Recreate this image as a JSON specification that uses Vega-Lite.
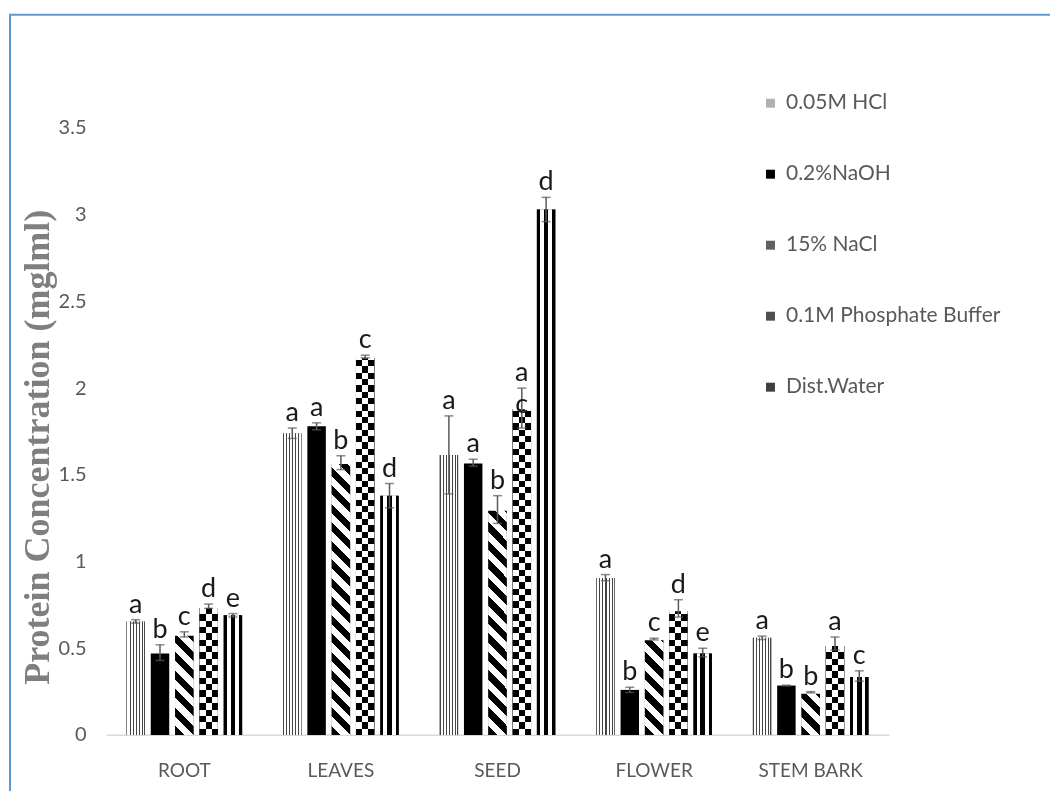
{
  "$schema": "https://vega.github.io/schema/vega-lite/v6.json",
  "width": 1042,
  "height": 778,
  "autosize": {"type": "none"},
  "padding": {"left": 10, "top": 14.7, "right": -2, "bottom": -2},
  "background": "white",
  "config": {"view": {"stroke": "#5B9BD5", "strokeWidth": 2}, "axis": {"grid": false}},
  "data": {"values": [
    {"part": "ROOT", "method": "0.05M HCl", "value": 0.655, "lo": 0.645, "hi": 0.665, "letter": "a"},
    {"part": "ROOT", "method": "0.2%NaOH", "value": 0.47, "lo": 0.43, "hi": 0.52, "letter": "b"},
    {"part": "ROOT", "method": "15% NaCl", "value": 0.58, "lo": 0.565, "hi": 0.595, "letter": "c"},
    {"part": "ROOT", "method": "0.1M Phosphate Buffer", "value": 0.74, "lo": 0.73, "hi": 0.755, "letter": "d"},
    {"part": "ROOT", "method": "Dist.Water", "value": 0.69, "lo": 0.68, "hi": 0.7, "letter": "e"},
    {"part": "LEAVES", "method": "0.05M HCl", "value": 1.74, "lo": 1.71, "hi": 1.77, "letter": "a"},
    {"part": "LEAVES", "method": "0.2%NaOH", "value": 1.78, "lo": 1.76, "hi": 1.8, "letter": "a"},
    {"part": "LEAVES", "method": "15% NaCl", "value": 1.57, "lo": 1.53, "hi": 1.61, "letter": "b"},
    {"part": "LEAVES", "method": "0.1M Phosphate Buffer", "value": 2.18, "lo": 2.175, "hi": 2.19, "letter": "c"},
    {"part": "LEAVES", "method": "Dist.Water", "value": 1.38, "lo": 1.31, "hi": 1.45, "letter": "d"},
    {"part": "SEED", "method": "0.05M HCl", "value": 1.615, "lo": 1.39, "hi": 1.84, "letter": "a"},
    {"part": "SEED", "method": "0.2%NaOH", "value": 1.565, "lo": 1.55, "hi": 1.59, "letter": "a"},
    {"part": "SEED", "method": "15% NaCl", "value": 1.3, "lo": 1.22, "hi": 1.38, "letter": "b"},
    {"part": "SEED", "method": "0.1M Phosphate Buffer", "value": 1.885, "lo": 1.77, "hi": 2.0, "letter": "a", "letter2": "c"},
    {"part": "SEED", "method": "Dist.Water", "value": 3.03, "lo": 2.96, "hi": 3.1, "letter": "d"},
    {"part": "FLOWER", "method": "0.05M HCl", "value": 0.905, "lo": 0.89, "hi": 0.925, "letter": "a"},
    {"part": "FLOWER", "method": "0.2%NaOH", "value": 0.26, "lo": 0.245, "hi": 0.275, "letter": "b"},
    {"part": "FLOWER", "method": "15% NaCl", "value": 0.553, "lo": 0.548, "hi": 0.558, "letter": "c"},
    {"part": "FLOWER", "method": "0.1M Phosphate Buffer", "value": 0.72, "lo": 0.68, "hi": 0.78, "letter": "d"},
    {"part": "FLOWER", "method": "Dist.Water", "value": 0.47, "lo": 0.45, "hi": 0.5, "letter": "e"},
    {"part": "STEM BARK", "method": "0.05M HCl", "value": 0.56, "lo": 0.55, "hi": 0.57, "letter": "a"},
    {"part": "STEM BARK", "method": "0.2%NaOH", "value": 0.285, "lo": 0.283, "hi": 0.287, "letter": "b"},
    {"part": "STEM BARK", "method": "15% NaCl", "value": 0.245, "lo": 0.243, "hi": 0.25, "letter": "b"},
    {"part": "STEM BARK", "method": "0.1M Phosphate Buffer", "value": 0.52, "lo": 0.49, "hi": 0.565, "letter": "a"},
    {"part": "STEM BARK", "method": "Dist.Water", "value": 0.335, "lo": 0.31, "hi": 0.37, "letter": "c"}
  ]},
  "encoding": {
    "x": {
      "field": "part", "type": "nominal", "title": null,
      "scale": {"type": "band", "domain": ["ROOT", "LEAVES", "SEED", "FLOWER", "STEM BARK"], "range": [96, 879], "paddingInner": 0.224, "paddingOuter": 0.112},
      "axis": {"offset": -58, "domainColor": "#d9d9d9", "domainWidth": 1.5, "ticks": false, "labelPadding": 27, "labelFont": "Lato", "labelFontSize": 19, "labelColor": "#595959", "labelAngle": 0}
    },
    "xOffset": {
      "field": "method", "type": "nominal",
      "scale": {"domain": ["0.05M HCl", "0.2%NaOH", "15% NaCl", "0.1M Phosphate Buffer", "Dist.Water"], "paddingInner": 0.24, "paddingOuter": 0.12}
    }
  },
  "layer": [
    {
      "mark": {"type": "bar"},
      "encoding": {
        "y": {
          "field": "value", "type": "quantitative", "title": "Protein Concentration (mglml)",
          "scale": {"domain": [0, 3.5], "range": [720.3, 113.3], "nice": false},
          "axis": {"values": [0, 0.5, 1, 1.5, 2, 2.5, 3, 3.5], "format": "~g", "domain": false, "ticks": false, "grid": false, "offset": -76, "labelPadding": 0, "labelFont": "Lato", "labelFontSize": 20, "labelColor": "#595959", "titleFont": "Liberation Serif", "titleFontWeight": "bold", "titleFontSize": 36, "titleColor": "#7f7f7f", "titleX": -49, "titleY": 432, "titleAngle": -90, "titleAlign": "center", "titleBaseline": "middle"}
        },
        "y2": {"datum": 0},
        "color": {
          "field": "method", "type": "nominal",
          "scale": {"domain": ["0.05M HCl", "0.2%NaOH", "15% NaCl", "0.1M Phosphate Buffer", "Dist.Water"], "range": ["#b0b0b0", "#000000", "#606060", "#505050", "#404040"]},
          "legend": {"orient": "none", "legendX": 750, "legendY": 78, "title": null, "direction": "vertical", "symbolType": "square", "symbolSize": 80, "symbolStrokeWidth": 0, "labelFont": "Lato", "labelFontSize": 21, "labelColor": "#595959", "labelOffset": 5, "labelLimit": 0, "rowPadding": 49, "padding": 0, "zindex": 1}
        }
      }
    },
    {
      "transform": [{"filter": "datum.method === '0.05M HCl'"}],
      "mark": {"type": "bar", "fill": {"gradient": "linear", "x1": 0, "y1": 0, "x2": 1, "y2": 0, "stops": [
        {"offset": 0, "color": "#444"}, {"offset": 0.0556, "color": "#444"}, {"offset": 0.0556, "color": "#fff"}, {"offset": 0.1667, "color": "#fff"},
        {"offset": 0.1667, "color": "#444"}, {"offset": 0.2222, "color": "#444"}, {"offset": 0.2222, "color": "#fff"}, {"offset": 0.3333, "color": "#fff"},
        {"offset": 0.3333, "color": "#444"}, {"offset": 0.3889, "color": "#444"}, {"offset": 0.3889, "color": "#fff"}, {"offset": 0.5, "color": "#fff"},
        {"offset": 0.5, "color": "#444"}, {"offset": 0.5556, "color": "#444"}, {"offset": 0.5556, "color": "#fff"}, {"offset": 0.6667, "color": "#fff"},
        {"offset": 0.6667, "color": "#444"}, {"offset": 0.7222, "color": "#444"}, {"offset": 0.7222, "color": "#fff"}, {"offset": 0.8333, "color": "#fff"},
        {"offset": 0.8333, "color": "#444"}, {"offset": 0.8889, "color": "#444"}, {"offset": 0.8889, "color": "#fff"}, {"offset": 0.9444, "color": "#fff"},
        {"offset": 0.9444, "color": "#444"}, {"offset": 1, "color": "#444"}
      ]}},
      "encoding": {"y": {"field": "value", "type": "quantitative", "title": "Protein Concentration (mglml)"}, "y2": {"datum": 0}}
    },
    {
      "transform": [{"filter": "datum.method === 'Dist.Water'"}],
      "mark": {"type": "bar", "fill": {"gradient": "linear", "x1": 0, "y1": 0, "x2": 1, "y2": 0, "stops": [
        {"offset": 0, "color": "#000"}, {"offset": 0.17, "color": "#000"}, {"offset": 0.17, "color": "#fff"}, {"offset": 0.38, "color": "#fff"},
        {"offset": 0.38, "color": "#000"}, {"offset": 0.62, "color": "#000"}, {"offset": 0.62, "color": "#fff"}, {"offset": 0.83, "color": "#fff"},
        {"offset": 0.83, "color": "#000"}, {"offset": 1, "color": "#000"}
      ]}},
      "encoding": {"y": {"field": "value", "type": "quantitative", "title": "Protein Concentration (mglml)"}, "y2": {"datum": 0}}
    },
    {
      "transform": [{"filter": "datum.method === '15% NaCl'"}],
      "mark": {"type": "bar", "fill": {"gradient": "linear", "x1": 0, "y1": 1, "x2": 0.0708, "y2": -0.062, "stops": [
        {"offset": 0, "color": "#000"}, {"offset": 0.03125, "color": "#000"}, {"offset": 0.03125, "color": "#fff"}, {"offset": 0.0625, "color": "#fff"},
        {"offset": 0.0625, "color": "#000"}, {"offset": 0.09375, "color": "#000"}, {"offset": 0.09375, "color": "#fff"}, {"offset": 0.125, "color": "#fff"},
        {"offset": 0.125, "color": "#000"}, {"offset": 0.15625, "color": "#000"}, {"offset": 0.15625, "color": "#fff"}, {"offset": 0.1875, "color": "#fff"},
        {"offset": 0.1875, "color": "#000"}, {"offset": 0.21875, "color": "#000"}, {"offset": 0.21875, "color": "#fff"}, {"offset": 0.25, "color": "#fff"},
        {"offset": 0.25, "color": "#000"}, {"offset": 0.28125, "color": "#000"}, {"offset": 0.28125, "color": "#fff"}, {"offset": 0.3125, "color": "#fff"},
        {"offset": 0.3125, "color": "#000"}, {"offset": 0.34375, "color": "#000"}, {"offset": 0.34375, "color": "#fff"}, {"offset": 0.375, "color": "#fff"},
        {"offset": 0.375, "color": "#000"}, {"offset": 0.40625, "color": "#000"}, {"offset": 0.40625, "color": "#fff"}, {"offset": 0.4375, "color": "#fff"},
        {"offset": 0.4375, "color": "#000"}, {"offset": 0.46875, "color": "#000"}, {"offset": 0.46875, "color": "#fff"}, {"offset": 0.5, "color": "#fff"},
        {"offset": 0.5, "color": "#000"}, {"offset": 0.53125, "color": "#000"}, {"offset": 0.53125, "color": "#fff"}, {"offset": 0.5625, "color": "#fff"},
        {"offset": 0.5625, "color": "#000"}, {"offset": 0.59375, "color": "#000"}, {"offset": 0.59375, "color": "#fff"}, {"offset": 0.625, "color": "#fff"},
        {"offset": 0.625, "color": "#000"}, {"offset": 0.65625, "color": "#000"}, {"offset": 0.65625, "color": "#fff"}, {"offset": 0.6875, "color": "#fff"},
        {"offset": 0.6875, "color": "#000"}, {"offset": 0.71875, "color": "#000"}, {"offset": 0.71875, "color": "#fff"}, {"offset": 0.75, "color": "#fff"},
        {"offset": 0.75, "color": "#000"}, {"offset": 0.78125, "color": "#000"}, {"offset": 0.78125, "color": "#fff"}, {"offset": 0.8125, "color": "#fff"},
        {"offset": 0.8125, "color": "#000"}, {"offset": 0.84375, "color": "#000"}, {"offset": 0.84375, "color": "#fff"}, {"offset": 0.875, "color": "#fff"},
        {"offset": 0.875, "color": "#000"}, {"offset": 0.90625, "color": "#000"}, {"offset": 0.90625, "color": "#fff"}, {"offset": 0.9375, "color": "#fff"},
        {"offset": 0.9375, "color": "#000"}, {"offset": 0.96875, "color": "#000"}, {"offset": 0.96875, "color": "#fff"}, {"offset": 1, "color": "#fff"}
      ]}},
      "encoding": {"y": {"datum": 1.6, "type": "quantitative"}, "y2": {"datum": 0}}
    },
    {
      "transform": [{"filter": "datum.method === '0.1M Phosphate Buffer'"}],
      "mark": {"type": "bar", "fill": {"gradient": "linear", "x1": 0, "y1": 0, "x2": 1, "y2": 0, "stops": [
        {"offset": 0, "color": "#000"}, {"offset": 0.3333, "color": "#000"}, {"offset": 0.3333, "color": "#fff"}, {"offset": 0.6667, "color": "#fff"},
        {"offset": 0.6667, "color": "#000"}, {"offset": 1, "color": "#000"}
      ]}},
      "encoding": {"y": {"datum": 2.2, "type": "quantitative"}, "y2": {"datum": 0}}
    },
    {
      "transform": [{"filter": "datum.method === '0.1M Phosphate Buffer'"}],
      "mark": {"type": "bar", "blend": "difference", "fill": {"gradient": "linear", "x1": 0, "y1": 0, "x2": 0, "y2": 1, "stops": [
        {"offset": 0, "color": "#fff"}, {"offset": 0.01667, "color": "#fff"}, {"offset": 0.01667, "color": "#000"}, {"offset": 0.03333, "color": "#000"},
        {"offset": 0.03333, "color": "#fff"}, {"offset": 0.05, "color": "#fff"}, {"offset": 0.05, "color": "#000"}, {"offset": 0.06667, "color": "#000"},
        {"offset": 0.06667, "color": "#fff"}, {"offset": 0.08333, "color": "#fff"}, {"offset": 0.08333, "color": "#000"}, {"offset": 0.1, "color": "#000"},
        {"offset": 0.1, "color": "#fff"}, {"offset": 0.11667, "color": "#fff"}, {"offset": 0.11667, "color": "#000"}, {"offset": 0.13333, "color": "#000"},
        {"offset": 0.13333, "color": "#fff"}, {"offset": 0.15, "color": "#fff"}, {"offset": 0.15, "color": "#000"}, {"offset": 0.16667, "color": "#000"},
        {"offset": 0.16667, "color": "#fff"}, {"offset": 0.18333, "color": "#fff"}, {"offset": 0.18333, "color": "#000"}, {"offset": 0.2, "color": "#000"},
        {"offset": 0.2, "color": "#fff"}, {"offset": 0.21667, "color": "#fff"}, {"offset": 0.21667, "color": "#000"}, {"offset": 0.23333, "color": "#000"},
        {"offset": 0.23333, "color": "#fff"}, {"offset": 0.25, "color": "#fff"}, {"offset": 0.25, "color": "#000"}, {"offset": 0.26667, "color": "#000"},
        {"offset": 0.26667, "color": "#fff"}, {"offset": 0.28333, "color": "#fff"}, {"offset": 0.28333, "color": "#000"}, {"offset": 0.3, "color": "#000"},
        {"offset": 0.3, "color": "#fff"}, {"offset": 0.31667, "color": "#fff"}, {"offset": 0.31667, "color": "#000"}, {"offset": 0.33333, "color": "#000"},
        {"offset": 0.33333, "color": "#fff"}, {"offset": 0.35, "color": "#fff"}, {"offset": 0.35, "color": "#000"}, {"offset": 0.36667, "color": "#000"},
        {"offset": 0.36667, "color": "#fff"}, {"offset": 0.38333, "color": "#fff"}, {"offset": 0.38333, "color": "#000"}, {"offset": 0.4, "color": "#000"},
        {"offset": 0.4, "color": "#fff"}, {"offset": 0.41667, "color": "#fff"}, {"offset": 0.41667, "color": "#000"}, {"offset": 0.43333, "color": "#000"},
        {"offset": 0.43333, "color": "#fff"}, {"offset": 0.45, "color": "#fff"}, {"offset": 0.45, "color": "#000"}, {"offset": 0.46667, "color": "#000"},
        {"offset": 0.46667, "color": "#fff"}, {"offset": 0.48333, "color": "#fff"}, {"offset": 0.48333, "color": "#000"}, {"offset": 0.5, "color": "#000"},
        {"offset": 0.5, "color": "#fff"}, {"offset": 0.51667, "color": "#fff"}, {"offset": 0.51667, "color": "#000"}, {"offset": 0.53333, "color": "#000"},
        {"offset": 0.53333, "color": "#fff"}, {"offset": 0.55, "color": "#fff"}, {"offset": 0.55, "color": "#000"}, {"offset": 0.56667, "color": "#000"},
        {"offset": 0.56667, "color": "#fff"}, {"offset": 0.58333, "color": "#fff"}, {"offset": 0.58333, "color": "#000"}, {"offset": 0.6, "color": "#000"},
        {"offset": 0.6, "color": "#fff"}, {"offset": 0.61667, "color": "#fff"}, {"offset": 0.61667, "color": "#000"}, {"offset": 0.63333, "color": "#000"},
        {"offset": 0.63333, "color": "#fff"}, {"offset": 0.65, "color": "#fff"}, {"offset": 0.65, "color": "#000"}, {"offset": 0.66667, "color": "#000"},
        {"offset": 0.66667, "color": "#fff"}, {"offset": 0.68333, "color": "#fff"}, {"offset": 0.68333, "color": "#000"}, {"offset": 0.7, "color": "#000"},
        {"offset": 0.7, "color": "#fff"}, {"offset": 0.71667, "color": "#fff"}, {"offset": 0.71667, "color": "#000"}, {"offset": 0.73333, "color": "#000"},
        {"offset": 0.73333, "color": "#fff"}, {"offset": 0.75, "color": "#fff"}, {"offset": 0.75, "color": "#000"}, {"offset": 0.76667, "color": "#000"},
        {"offset": 0.76667, "color": "#fff"}, {"offset": 0.78333, "color": "#fff"}, {"offset": 0.78333, "color": "#000"}, {"offset": 0.8, "color": "#000"},
        {"offset": 0.8, "color": "#fff"}, {"offset": 0.81667, "color": "#fff"}, {"offset": 0.81667, "color": "#000"}, {"offset": 0.83333, "color": "#000"},
        {"offset": 0.83333, "color": "#fff"}, {"offset": 0.85, "color": "#fff"}, {"offset": 0.85, "color": "#000"}, {"offset": 0.86667, "color": "#000"},
        {"offset": 0.86667, "color": "#fff"}, {"offset": 0.88333, "color": "#fff"}, {"offset": 0.88333, "color": "#000"}, {"offset": 0.9, "color": "#000"},
        {"offset": 0.9, "color": "#fff"}, {"offset": 0.91667, "color": "#fff"}, {"offset": 0.91667, "color": "#000"}, {"offset": 0.93333, "color": "#000"},
        {"offset": 0.93333, "color": "#fff"}, {"offset": 0.95, "color": "#fff"}, {"offset": 0.95, "color": "#000"}, {"offset": 0.96667, "color": "#000"},
        {"offset": 0.96667, "color": "#fff"}, {"offset": 0.98333, "color": "#fff"}, {"offset": 0.98333, "color": "#000"}, {"offset": 1, "color": "#000"}
      ]}},
      "encoding": {"y": {"datum": 2.2, "type": "quantitative"}, "y2": {"datum": 0}}
    },
    {
      "transform": [{"filter": "datum.method === '15% NaCl'"}],
      "mark": {"type": "bar", "fill": "#ffffff", "stroke": "#ffffff", "strokeWidth": 2.5},
      "encoding": {"y": {"field": "value", "type": "quantitative", "title": "Protein Concentration (mglml)"}, "y2": {"datum": 1.6}}
    },
    {
      "transform": [{"filter": "datum.method === '0.1M Phosphate Buffer'"}],
      "mark": {"type": "bar", "fill": "#ffffff", "stroke": "#ffffff", "strokeWidth": 2.5},
      "encoding": {"y": {"field": "value", "type": "quantitative", "title": "Protein Concentration (mglml)"}, "y2": {"datum": 2.2}}
    },
    {
      "mark": {"type": "rule", "color": "#595959", "strokeWidth": 1.5},
      "encoding": {"y": {"field": "lo", "type": "quantitative", "title": "Protein Concentration (mglml)"}, "y2": {"field": "hi"}}
    },
    {
      "mark": {"type": "tick", "color": "#595959", "thickness": 1.5, "size": 9, "orient": "horizontal"},
      "encoding": {"y": {"field": "lo", "type": "quantitative", "title": "Protein Concentration (mglml)"}}
    },
    {
      "mark": {"type": "tick", "color": "#595959", "thickness": 1.5, "size": 9, "orient": "horizontal"},
      "encoding": {"y": {"field": "hi", "type": "quantitative", "title": "Protein Concentration (mglml)"}}
    },
    {
      "mark": {"type": "text", "font": "Lato", "fontSize": 27, "color": "#1a1a1a", "baseline": "alphabetic", "dy": -7},
      "encoding": {"y": {"field": "hi", "type": "quantitative", "title": "Protein Concentration (mglml)"}, "text": {"field": "letter"}}
    },
    {
      "transform": [{"filter": "isValid(datum.letter2)"}],
      "mark": {"type": "text", "font": "Lato", "fontSize": 27, "color": "#1a1a1a", "baseline": "alphabetic", "dy": 5},
      "encoding": {"y": {"field": "value", "type": "quantitative", "title": "Protein Concentration (mglml)"}, "text": {"field": "letter2"}}
    }
  ]
}
